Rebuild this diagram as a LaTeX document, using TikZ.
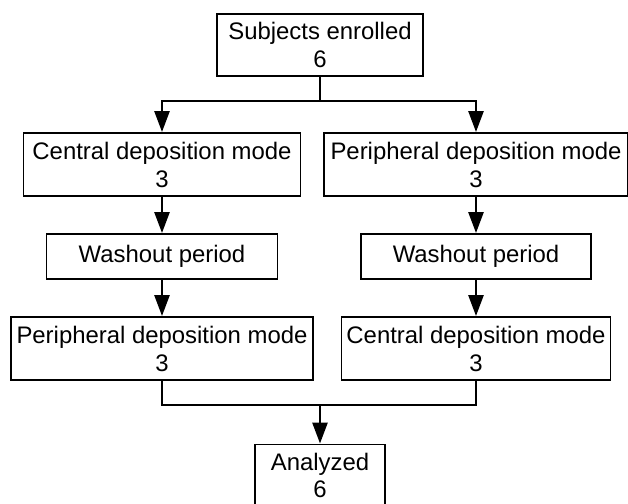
\documentclass[tikz,border=0pt]{standalone}
\usepackage{fontspec}
\setmainfont{Liberation Sans}
\usetikzlibrary{arrows.meta}
\begin{document}
\begin{tikzpicture}[x=1pt,y=-1pt,
  box/.style={draw=black,line width=1.9pt,fill=white,inner sep=0pt,align=center,
    font=\fontsize{23.9}{28}\selectfont},
  conn/.style={line width=2.6pt,line join=miter},
  arr/.style={conn,-{Triangle[length=21pt,width=15pt]}}]
\useasboundingbox (0,0) rectangle (628,503);
\begin{scope}
\clip (0,0) rectangle (628,503);
\node[box,minimum width=206pt,minimum height=62pt] (top) at (320,45) {Subjects enrolled\\6};
\node[box,minimum width=277pt,minimum height=63pt] (c1) at (162,164.5) {Central deposition mode\\3};
\node[box,minimum width=304pt,minimum height=63pt] (p1) at (476,164.5) {Peripheral deposition mode\\3};
\node[box,minimum width=231pt,minimum height=45pt] (w1) at (162,256.5) {Washout period};
\node[box,minimum width=230pt,minimum height=45pt] (w2) at (476,256.5) {Washout period};
\node[box,minimum width=302pt,minimum height=63pt] (p2) at (162,348.5) {Peripheral deposition mode\\3};
\node[box,minimum width=269pt,minimum height=63pt] (c2) at (476,348.5) {Central deposition mode\\3};
\node[box,minimum width=130pt,minimum height=62pt,text depth=0pt] (an) at (320,475.5) {Analyzed\\[-1pt]6};
\coordinate (s) at (320,101);
\coordinate (m) at (320,405);
\draw[conn] (top.south) -- (s);
\draw[arr] (s) -| (c1.north);
\draw[arr] (s) -| (p1.north);
\draw[arr] (c1.south) -- (w1.north);
\draw[arr] (p1.south) -- (w2.north);
\draw[arr] (w1.south) -- (p2.north);
\draw[arr] (w2.south) -- (c2.north);
\draw[conn] (p2.south) |- (m) -| (c2.south);
\draw[arr] (m) -- (an.north);
\end{scope}
\end{tikzpicture}
\end{document}
